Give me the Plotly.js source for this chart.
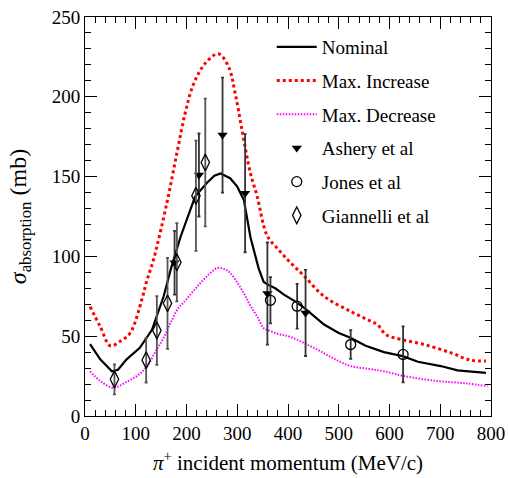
<!DOCTYPE html>
<html>
<head>
<meta charset="utf-8">
<script src="https://cdn.plot.ly/plotly-3.0.1.min.js"></script>
<style>html,body{margin:0;padding:0;background:#fff;}#plot{width:508px;height:478px;}</style>
</head>
<body>
<div id="plot"></div>
<script>
// Nominal model curve
const nomX = [10,30,53,65,82,108,132,155,170,188,205,217,240,255,267,286,300,313,326,342,352,362,375,392,418,435,471,500,523,553,589,626,656,701,734,760,790];
const nomY = [45,35.5,28,29,35.5,42.7,54,75,93,112,127,137.5,146,150.5,152,149,143.7,135.4,112,92.7,84,82,80,76,71,67,57.3,52,49,44,40,37.5,34,31.3,28.6,28,27];
// Max. Increase curve
const incX = [10,30,50,70,89,112,122,135,161,181,197.5,214,237,263,283,296,309.5,326,339,359,382,405,431,471,523,563,577,593,622,668,721,760,790];
const incY = [68.5,56,44,47,52,73,85,98,133,164.6,190,208,221,227,218.7,202,179,152,138,113,104,96,88,75,65.6,59.4,57,51,48,44.8,39.6,35,34.5];
// Max. Decrease curve
const decX = [10,30,56,80,102,122,140,155,168,184,194,221,245,261,275,286,313,326,339,352,359,380,405,457,490,523,560,589,629,695,750,793];
const decY = [28,22,17.7,21,25,31,41,49,58,67.7,71,81,89,92.7,92,89.6,77,69,62.5,55,54,51.5,49.5,41.7,36,31.3,29.5,28,25,21.9,20.5,18.7];
// Ashery et al
const ashX = [176.5,224.5,271,315.5,359.4,434.6];
const ashY = [96,151,176,139.6,76.7,64.6];
const ashE = [20,26,36,37,32,27];
// Jones et al
const jonX = [365.4,418,523.5,626.8];
const jonY = [72.5,68.8,44.8,38.6];
const jonE = [14.5,14,9,17.5];
// Giannelli et al
const giaX = [58,120.5,141.6,162.6,181,218.6,237];
const giaY = [23,35,53.6,70.6,96.3,138,158.8];
const giaE = [9.4,14,21.5,28.5,24.5,34.5,40];

const names = ['Nominal','Max. Increase','Max. Decrease','Ashery et al','Jones et al','Giannelli et al'];

const traces = [
  {x: nomX, y: nomY, mode: 'lines', name: names[0], legendgroup: 'a',
   line: {color: '#000', width: 2.2}},
  {x: incX, y: incY, mode: 'lines', name: names[1], legendgroup: 'b',
   line: {color: '#ff0000', width: 3, dash: '3px,3px', shape: 'spline'}},
  {x: decX, y: decY, mode: 'lines', name: names[2], legendgroup: 'c',
   line: {color: '#ff00ff', width: 2, dash: '1.5px,1.5px', shape: 'spline'}},
  {x: ashX, y: ashY, mode: 'markers', name: names[3], legendgroup: 'd',
   marker: {symbol: 'triangle-down', size: 9, color: '#000'},
   error_y: {type: 'data', array: ashE, visible: true, color: '#333', thickness: 1.8, width: 1.5}},
  {x: jonX, y: jonY, mode: 'markers', name: names[4], legendgroup: 'e',
   marker: {symbol: 'circle-open', size: 10, color: '#000', line: {width: 1.3}},
   error_y: {type: 'data', array: jonE, visible: true, color: '#333', thickness: 1.8, width: 1.5}},
  {x: giaX, y: giaY, mode: 'markers', name: names[5], legendgroup: 'f',
   marker: {symbol: 'diamond-tall-open', size: 12, color: '#000', line: {width: 1.3}},
   error_y: {type: 'data', array: giaE, visible: true, color: '#555', thickness: 1.8, width: 1.5}}
];

const font = 'serif';
const layout = {
  width: 508, height: 478,
  margin: {l: 85, r: 17, t: 17, b: 62},
  font: {family: font, size: 19, color: '#000'},
  showlegend: true,
  legend: {x: 0.46, y: 0.9725, xanchor: 'left', yanchor: 'top', bgcolor: 'rgba(0,0,0,0)',
           font: {family: font, size: 19, color: '#000'}, tracegroupgap: 6, itemwidth: 40},
  xaxis: {
    range: [0, 800], dtick: 100, tick0: 0,
    ticks: 'inside', ticklen: 12, tickwidth: 1, tickcolor: '#000',
    showline: true, linecolor: '#000', linewidth: 1, mirror: 'allticks',
    showgrid: false, zeroline: false,
    minor: {dtick: 20, ticks: 'inside', ticklen: 6, tickcolor: '#000', showgrid: false},
    tickfont: {family: font, size: 19, color: '#000'},
    title: {text: '<i>π</i><sup>+</sup> incident momentum (MeV/c)', font: {family: font, size: 21, color: '#000'}, standoff: 12}
  },
  yaxis: {
    range: [0, 250], dtick: 50, tick0: 0,
    ticks: 'inside', ticklen: 12, tickwidth: 1, tickcolor: '#000',
    showline: true, linecolor: '#000', linewidth: 1, mirror: 'allticks',
    showgrid: false, zeroline: false,
    minor: {dtick: 10, ticks: 'inside', ticklen: 6, tickcolor: '#000', showgrid: false},
    tickfont: {family: font, size: 19, color: '#000'},
    title: {text: '<i>σ</i><sub>absorption</sub> (mb)', font: {family: font, size: 24, color: '#000'}, standoff: 18}
  }
};

Plotly.newPlot('plot', traces, layout, {displayModeBar: false, staticPlot: true}).then(function () {
  document.querySelectorAll('#plot text').forEach(function (t) {
    t.style.fontFamily = '"Liberation Serif", "Times New Roman", serif';
  });
});
</script>
</body>
</html>
